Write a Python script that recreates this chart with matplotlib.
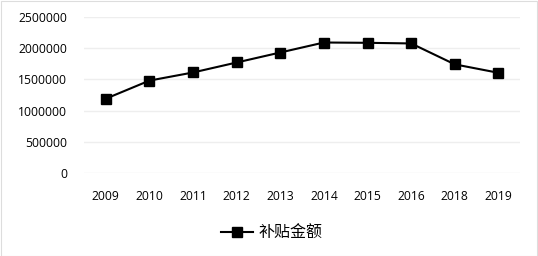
import matplotlib.pyplot as plt
from matplotlib.patches import Rectangle

# data
years = ['2009', '2010', '2011', '2012', '2013', '2014', '2015', '2016', '2018', '2019']
subsidy = [1190000, 1480000, 1610000, 1770000, 1930000, 2090000, 2085000, 2075000, 1740000, 1605000]
y_ticks = [0, 500000, 1000000, 1500000, 2000000, 2500000]

fig = plt.figure(figsize=(5.38, 2.56), dpi=100)
ax = fig.add_axes([0.156, 0.324, 0.811, 0.61])

x = range(len(years))
ax.plot(x, subsidy, color='black', linewidth=1.5, marker='s', markersize=7,
        label='补贴金额')

ax.set_xlim(-0.5, len(years) - 0.5)
ax.set_ylim(0, 2500000)
ax.set_xticks(list(x))
ax.set_xticklabels(years, fontsize=8.7, family='Open Sans')
ax.set_yticks(y_ticks)
ax.set_yticklabels([str(v) for v in y_ticks], fontsize=8.7, family='Open Sans')
ax.tick_params(axis='x', length=0, pad=12)
ax.tick_params(axis='y', length=0, pad=12)
ax.grid(axis='y', color='#eeeeee', linewidth=1)
ax.set_axisbelow(True)
for s in ax.spines.values():
    s.set_visible(False)

leg = fig.legend(loc='center', bbox_to_anchor=(0.505, 0.09), frameon=False,
                 prop={'family': ['Noto Sans CJK SC'], 'size': 11.5},
                 handlelength=2.0, handletextpad=0.3)

# thin chart border
fig.patches.append(Rectangle((0.001, 0.001), 0.997, 0.997, transform=fig.transFigure,
                             fill=False, edgecolor='#dddddd', linewidth=0.8))

fig.savefig('out.png', dpi=100)
